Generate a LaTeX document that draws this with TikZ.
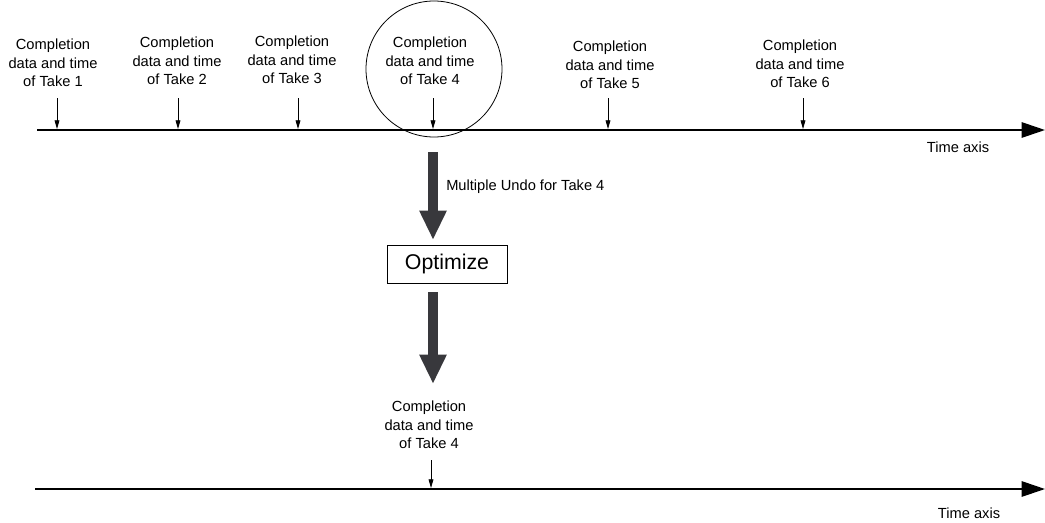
\documentclass[tikz,border=0pt]{standalone}
\usepackage{fontspec}
\setmainfont{Liberation Sans}
\usetikzlibrary{arrows.meta}
\begin{document}
\begin{tikzpicture}[x=0.75pt,y=-0.75pt,
  lbl/.style={align=center,inner sep=0pt,font=\fontsize{11}{13.9}\selectfont},
  axis/.style={line width=1.4pt,-{Triangle[width=11.5pt,length=17.5pt]}},
  tick/.style={line width=0.6pt,-{Triangle[width=3.6pt,length=6.5pt]}},
  bigarrow/.style={line width=7.5pt,draw={rgb,255:red,56;green,56;blue,60},
     -{Triangle[width=19pt,length=22pt]}},
  box/.style={draw,line width=0.6pt,minimum width=90pt,minimum height=28.5pt,inner sep=0pt,
     font=\fontsize{16}{18}\selectfont}]
\useasboundingbox (0,0) rectangle (1045,522);
% top axis
\coordinate (a1s) at (37,130);
\coordinate (a1e) at (1045,130);
\draw[axis] (a1s) -- (a1e);
\node[lbl] (tl1) at (958,147) {Time axis};
% labels
\node[lbl] (t1) at (53,63) {Completion\\data and time\\of Take 1};
\node[lbl] (t2) at (177,61) {Completion\\data and time\\of Take 2};
\node[lbl] (t3) at (292,60) {Completion\\data and time\\of Take 3};
\node[lbl] (t4) at (430,61) {Completion\\data and time\\of Take 4};
\node[lbl] (t5) at (610,65) {Completion\\data and time\\of Take 5};
\node[lbl] (t6) at (800,64) {Completion\\data and time\\of Take 6};
% ticks
\foreach \i/\x in {1/57,2/178,3/298,4/433,5/608,6/803}{
  \coordinate (k\i s) at (\x,98);
  \coordinate (k\i e) at (\x,129);
  \draw[tick] (k\i s) -- (k\i e);
}
% circle
\node[circle,draw,line width=0.6pt,minimum size=102pt,inner sep=0pt] (sel) at (434,69) {};
% big arrow 1
\coordinate (b1s) at (433,152);
\coordinate (b1e) at (433,240);
\draw[bigarrow] (b1s) -- (b1e);
\node[lbl,anchor=west] (mu) at (446,187) {Multiple Undo for Take 4};
% optimize box
\node[box] (opt) at (447,264) {Optimize};
% big arrow 2
\coordinate (b2s) at (433,292);
\coordinate (b2e) at (433,384);
\draw[bigarrow] (b2s) -- (b2e);
% bottom label
\node[lbl] (t4b) at (429,425) {Completion\\data and time\\of Take 4};
\coordinate (kbs) at (431,460);
\coordinate (kbe) at (431,488);
\draw[tick] (kbs) -- (kbe);
% bottom axis
\coordinate (a2s) at (35,489);
\coordinate (a2e) at (1045,489);
\draw[axis] (a2s) -- (a2e);
\node[lbl] (tl2) at (969,513) {Time axis};
\end{tikzpicture}
\end{document}
